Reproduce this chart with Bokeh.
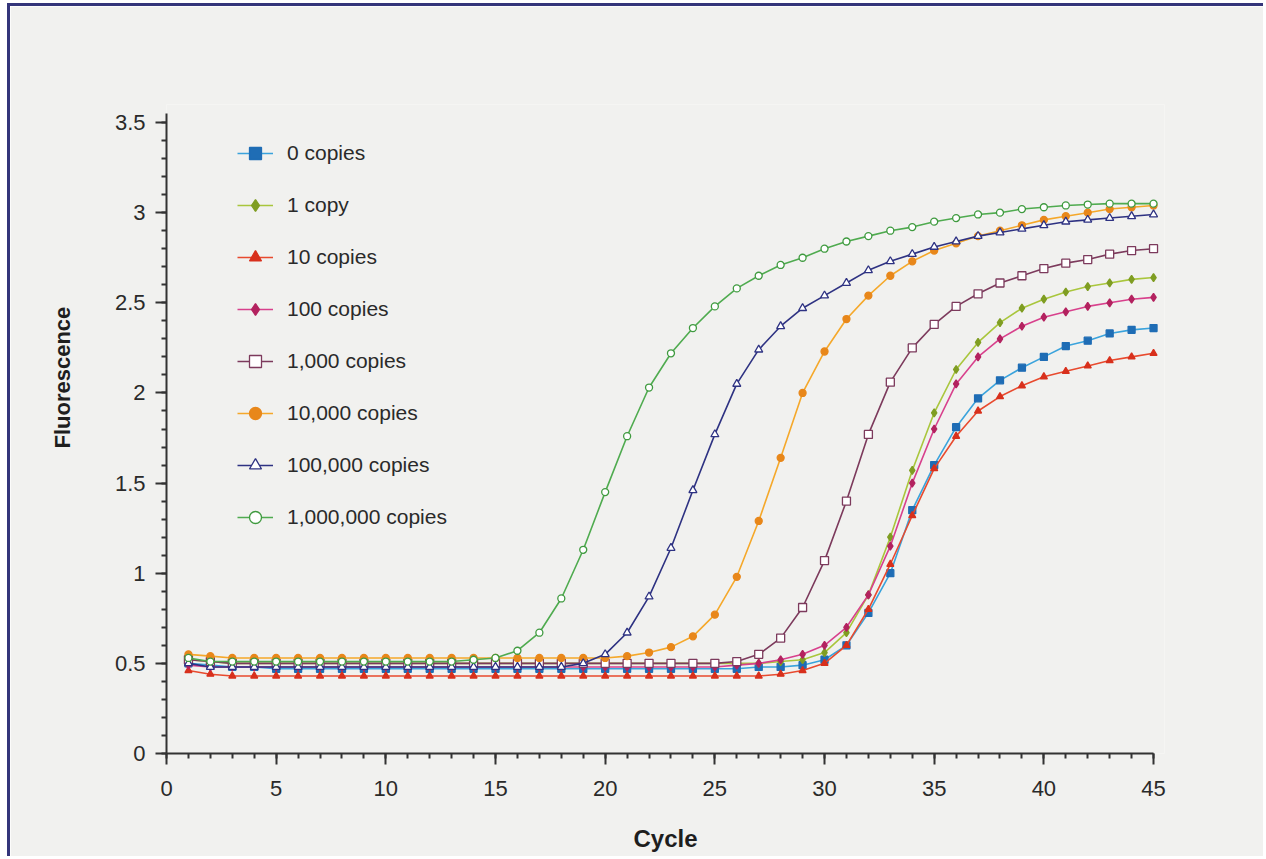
from bokeh.plotting import figure
from bokeh.models import FixedTicker, Legend, LegendItem, Title
from bokeh.embed import file_html
from bokeh.resources import INLINE

cycles = list(range(1, 46))

series_names = ["0 copies", "1 copy", "10 copies", "100 copies", "1,000 copies",
                "10,000 copies", "100,000 copies", "1,000,000 copies"]

copies_0 = [0.50, 0.49, 0.48, 0.48] + [0.47] * 22 + [0.48, 0.48, 0.49,
            0.52, 0.60, 0.78, 1.00, 1.35, 1.60, 1.81, 1.97, 2.07, 2.14, 2.20, 2.26, 2.29, 2.33, 2.35, 2.36]
copies_1 = [0.52, 0.51] + [0.50] * 25 + [0.51,
            0.52, 0.56, 0.67, 0.88, 1.20, 1.57, 1.89, 2.13, 2.28, 2.39, 2.47, 2.52, 2.56, 2.59, 2.61, 2.63, 2.64]
copies_10 = [0.46, 0.44] + [0.43] * 25 + [0.44, 0.46,
             0.50, 0.60, 0.80, 1.05, 1.32, 1.58, 1.76, 1.90, 1.98, 2.04, 2.09, 2.12, 2.15, 2.18, 2.20, 2.22]
copies_100 = [0.49] + [0.48] * 24 + [0.49, 0.50, 0.52, 0.55,
              0.60, 0.70, 0.88, 1.15, 1.50, 1.80, 2.05, 2.20, 2.30, 2.37, 2.42, 2.45, 2.48, 2.50, 2.52, 2.53]
copies_1k = [0.52, 0.51] + [0.50] * 23 + [0.51, 0.55, 0.64, 0.81,
             1.07, 1.40, 1.77, 2.06, 2.25, 2.38, 2.48, 2.55, 2.61, 2.65, 2.69, 2.72, 2.74, 2.77, 2.79, 2.80]
copies_10k = [0.55, 0.54] + [0.53] * 18 + [0.54, 0.56, 0.59, 0.65, 0.77, 0.98, 1.29, 1.64, 2.00,
              2.23, 2.41, 2.54, 2.65, 2.73, 2.79, 2.83, 2.87, 2.90, 2.93, 2.96, 2.98, 3.00, 3.02, 3.03, 3.04]
copies_100k = [0.50] + [0.48] * 17 + [0.50, 0.55, 0.67, 0.87, 1.14, 1.46, 1.77, 2.05, 2.24, 2.37, 2.47,
               2.54, 2.61, 2.68, 2.73, 2.77, 2.81, 2.84, 2.87, 2.89, 2.91, 2.93, 2.95, 2.96, 2.97, 2.98, 2.99]
copies_1m = [0.53] + [0.51] * 12 + [0.52, 0.53, 0.57, 0.67, 0.86, 1.13, 1.45, 1.76, 2.03, 2.22, 2.36, 2.48,
             2.58, 2.65, 2.71, 2.75, 2.80, 2.84, 2.87, 2.90, 2.92, 2.95, 2.97, 2.99, 3.00, 3.02, 3.03, 3.04,
             3.045, 3.05, 3.05, 3.05]

x_ticks = [0, 5, 10, 15, 20, 25, 30, 35, 40, 45]
y_ticks = [0, 0.5, 1, 1.5, 2, 2.5, 3, 3.5]
y_tick_labels = ["0", "0.5", "1", "1.5", "2", "2.5", "3", "3.5"]

all_series = [copies_0, copies_1, copies_10, copies_100, copies_1k, copies_10k, copies_100k, copies_1m]
line_colors = ["#3aa3dc", "#a9c63c", "#e84a2e", "#d8408c", "#7c3a5c", "#f5a82a", "#2e3282", "#4fab4f"]
marker_colors = ["#1f6db5", "#7f9d22", "#d8301c", "#b3225f", "#7c3a5c", "#e8871a", "#2e3282", "#3f9a3f"]
markers = ["square", "diamond", "triangle", "diamond", "square", "circle", "triangle", "circle"]
filled = [True, True, True, True, False, True, False, False]
sizes = [7, 8, 7, 8, 8, 7, 8, 7]

BG = "#f1f1ef"
FONT = "Liberation Sans"

p = figure(width=1256, height=853, output_backend="svg", toolbar_location=None,
           x_range=(0, 45.5), y_range=(0, 3.6),
           min_border_left=156, min_border_right=102, min_border_top=98, min_border_bottom=106,
           background_fill_color=BG, border_fill_color=BG)
p.outline_line_color = None
p.grid.visible = False

items = []
for i, ys in enumerate(all_series):
    r1 = p.line(cycles, ys, line_color=line_colors[i], line_width=1.6)
    r2 = p.scatter(cycles, ys, marker=markers[i], size=sizes[i],
                   line_color=marker_colors[i], line_width=1.3,
                   fill_color=marker_colors[i] if filled[i] else "white")
    items.append(LegendItem(label=series_names[i], renderers=[r1, r2]))

legend = Legend(items=items, location=(71, 221), orientation="vertical",
                background_fill_alpha=0, border_line_color=None,
                label_text_font=FONT, label_text_font_size="21px", label_text_color="#2a2a2a",
                glyph_width=36, glyph_height=30, label_height=30, spacing=22,
                label_standoff=14, padding=0, margin=0)
p.add_layout(legend, "center")

for ax in (p.xaxis[0], p.yaxis[0]):
    ax.axis_line_width = 2
    ax.axis_line_color = "#333333"
    ax.major_tick_line_color = "#333333"
    ax.major_tick_line_width = 2
    ax.minor_tick_line_color = "#333333"
    ax.minor_tick_line_width = 2
    ax.major_tick_in = 0
    ax.major_tick_out = 11
    ax.minor_tick_in = 0
    ax.minor_tick_out = 5
    ax.major_label_text_font = FONT
    ax.major_label_text_font_size = "22px"
    ax.major_label_text_color = "#2a2a2a"

p.xaxis.ticker = FixedTicker(ticks=x_ticks, minor_ticks=list(range(0, 46)))
p.xaxis.bounds = (0, 45)
p.xaxis.major_label_standoff = 16
p.xaxis.axis_label = "Cycle"
p.xaxis.axis_label_text_font = FONT
p.xaxis.axis_label_text_font_style = "bold"
p.xaxis.axis_label_text_font_size = "24px"
p.xaxis.axis_label_text_color = "#1e1e1e"
p.xaxis.axis_label_standoff = 26

p.yaxis.ticker = FixedTicker(ticks=y_ticks, minor_ticks=[k / 10 for k in range(0, 36)])
p.yaxis.bounds = (0, 3.55)
p.yaxis.major_label_standoff = 10
p.yaxis.major_label_overrides = {t: s for t, s in zip(y_ticks, y_tick_labels)}

ytitle = Title(text="Fluorescence", align="left", offset=305, standoff=73,
               text_font=FONT, text_font_style="bold", text_font_size="22px",
               text_color="#1e1e1e")
p.add_layout(ytitle, "left")

p.styles = {"border-left": "3px solid #34357a", "border-top": "3px solid #34357a",
            "margin-left": "7px", "margin-top": "3px"}

open("out.html", "w").write(file_html(p, INLINE))
